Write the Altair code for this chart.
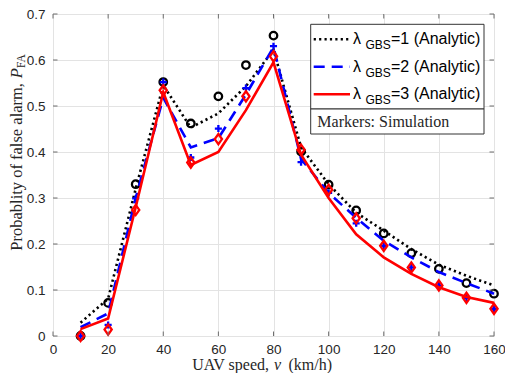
import altair as alt
import pandas as pd

speeds = [10, 20, 30, 40, 50, 60, 70, 80, 90, 100, 110, 120, 130, 140, 150, 160]

analytic_l1 = [0.029, 0.081, 0.320, 0.545, 0.453, 0.484, 0.543, 0.622, 0.410, 0.330, 0.268, 0.229, 0.189, 0.155, 0.131, 0.110]
analytic_l2 = [0.019, 0.049, 0.300, 0.518, 0.410, 0.430, 0.525, 0.628, 0.385, 0.311, 0.257, 0.207, 0.171, 0.139, 0.115, 0.092]
analytic_l3 = [0.015, 0.038, 0.280, 0.530, 0.372, 0.400, 0.491, 0.595, 0.394, 0.300, 0.221, 0.171, 0.135, 0.106, 0.085, 0.072]

sim_l1 = [0.0, 0.072, 0.330, 0.552, 0.462, 0.521, 0.589, 0.653, 0.401, 0.329, 0.273, 0.223, 0.180, 0.146, 0.115, 0.092]
sim_l2 = [0.0, 0.024, 0.299, 0.552, 0.388, 0.451, 0.539, 0.630, 0.378, 0.311, 0.245, 0.196, 0.149, 0.110, 0.083, 0.059]
sim_l3 = [0.0, 0.014, 0.274, 0.534, 0.377, 0.428, 0.521, 0.608, 0.405, 0.318, 0.256, 0.196, 0.149, 0.110, 0.083, 0.059]

x_ticks = [0, 20, 40, 60, 80, 100, 120, 140, 160]
y_ticks = [0, 0.1, 0.2, 0.3, 0.4, 0.5, 0.6, 0.7]

legend_labels = ["=1 (Analytic)", "=2 (Analytic)", "=3 (Analytic)"]
legend_colors = ["#000000", "#0000ff", "#ff0000"]

W, H = 441, 322
xs = alt.Scale(domain=[0, 160], nice=False, zero=False)
ys = alt.Scale(domain=[0, 0.7], nice=False, zero=False)
FRAME = "#6e6e6e"
SERIF = "Liberation Serif"
SANS = "Liberation Sans"

def df(vals):
    return pd.DataFrame({"v": speeds, "p": vals})

xenc = alt.X("v:Q", scale=xs, axis=alt.Axis(values=x_ticks, title=None, grid=True, ticks=False,
                                             domain=False, labelFontSize=13.5, labelFont=SANS,
                                             labelColor="#262626", labelPadding=6, labelFlush=False,
                                             gridColor="#e3e3e3"))
yenc = alt.Y("p:Q", scale=ys, axis=alt.Axis(values=y_ticks, title=None, grid=True, ticks=False,
                                             domain=False, format=".1~f", labelFontSize=13.5,
                                             labelFont=SANS, labelColor="#262626", labelPadding=8,
                                             labelFlush=False, gridColor="#e3e3e3"))

def line(vals, color, dash):
    kw = dict(color=color, strokeWidth=2.6)
    if dash:
        kw["strokeDash"] = dash
    return alt.Chart(df(vals)).mark_line(**kw).encode(x=xenc, y=yenc)

def pts(vals, color, shape, size):
    return alt.Chart(df(vals)).mark_point(shape=shape, filled=False, color=color, strokeWidth=2.3,
                                          size=size, opacity=1).encode(x=xenc, y=yenc)

layers = [
    line(analytic_l1, "#000000", [2.2, 3.2]),
    pts(sim_l1, "#000000", "circle", 56),
    line(analytic_l2, "#0000ff", [11, 7]),
    pts(sim_l2, "#0000ff", "M-1,0L1,0M0,-1L0,1", 50),
    line(analytic_l3, "#ff0000", None),
    pts(sim_l3, "#ff0000", "M0,-1.2L0.85,0L0,1.2L-0.85,0Z", 72),
]

# inward ticks
xt = pd.DataFrame({"t": x_ticks})
yt = pd.DataFrame({"t": y_ticks})
layers.append(alt.Chart(xt).mark_rule(color=FRAME, strokeWidth=1).encode(
    x=alt.X("t:Q", scale=xs), y=alt.value(H), y2=alt.value(H - 4.5)))
layers.append(alt.Chart(xt).mark_rule(color=FRAME, strokeWidth=1).encode(
    x=alt.X("t:Q", scale=xs), y=alt.value(0), y2=alt.value(4.5)))
layers.append(alt.Chart(yt).mark_rule(color=FRAME, strokeWidth=1).encode(
    y=alt.Y("t:Q", scale=ys), x=alt.value(0), x2=alt.value(4.5)))
layers.append(alt.Chart(yt).mark_rule(color=FRAME, strokeWidth=1).encode(
    y=alt.Y("t:Q", scale=ys), x=alt.value(W), x2=alt.value(W - 4.5)))

one = pd.DataFrame({"a": [0]})

# legend boxes
LX0, LX1 = 257.7, 431.0
layers.append(alt.Chart(one).mark_rect(fill="white", stroke="#333333", strokeWidth=1).encode(
    x=alt.value(LX0), x2=alt.value(LX1), y=alt.value(10.3), y2=alt.value(95.0)))
layers.append(alt.Chart(one).mark_rect(fill="white", stroke="#333333", strokeWidth=1).encode(
    x=alt.value(LX0), x2=alt.value(LX1), y=alt.value(95.0), y2=alt.value(120.0)))

rows = [25.3, 52.7, 80.3]
dashes = [[2.2, 3.2], [11, 7], None]
for ry, lab, col, dsh in zip(rows, legend_labels, legend_colors, dashes):
    kw = dict(color=col, strokeWidth=2.6)
    if dsh:
        kw["strokeDash"] = dsh
    layers.append(alt.Chart(one).mark_rule(**kw).encode(
        x=alt.value(LX0 + 3), x2=alt.value(LX0 + 39.3), y=alt.value(ry)))
    layers.append(alt.Chart(one).mark_text(text="λ", font=SANS, fontSize=16, align="left",
                                           baseline="middle", color="black").encode(
        x=alt.value(LX0 + 42.3), y=alt.value(ry)))
    layers.append(alt.Chart(one).mark_text(text="GBS", font=SANS, fontSize=12, align="left",
                                           baseline="middle", color="black").encode(
        x=alt.value(LX0 + 54.8), y=alt.value(ry + 6)))
    layers.append(alt.Chart(one).mark_text(text=lab, font=SANS, fontSize=16, align="left",
                                           baseline="middle", color="black").encode(
        x=alt.value(LX0 + 80.3), y=alt.value(ry)))

layers.append(alt.Chart(one).mark_text(text="Markers:  Simulation", font=SERIF, fontSize=16,
                                       align="left", baseline="middle", color="#262626").encode(
    x=alt.value(LX0 + 6.6), y=alt.value(107.7)))

# x title
TY = 356
layers.append(alt.Chart(one).mark_text(text="UAV speed,", font=SERIF, fontSize=16, align="right",
                                       baseline="alphabetic", color="#262626").encode(
    x=alt.value(216), y=alt.value(TY)))
layers.append(alt.Chart(one).mark_text(text="v", font=SERIF, fontSize=16, fontStyle="italic",
                                       align="center", baseline="alphabetic", color="#262626").encode(
    x=alt.value(224.5), y=alt.value(TY)))
layers.append(alt.Chart(one).mark_text(text="(km/h)", font=SERIF, fontSize=16, align="left",
                                       baseline="alphabetic", color="#262626").encode(
    x=alt.value(235.5), y=alt.value(TY)))

# y title
layers.append(alt.Chart(one).mark_text(text="Probablity of false alarm,", font=SERIF, fontSize=16.5,
                                       angle=270, align="right", baseline="alphabetic",
                                       color="#262626").encode(
    x=alt.value(-31.5), y=alt.value(69)))
layers.append(alt.Chart(one).mark_text(text="P", font=SERIF, fontSize=16.5, fontStyle="italic",
                                       angle=270, align="left", baseline="alphabetic",
                                       color="#262626").encode(
    x=alt.value(-31.5), y=alt.value(64.2)))
layers.append(alt.Chart(one).mark_text(text="FA", font=SERIF, fontSize=11.5,
                                       angle=270, align="left", baseline="alphabetic",
                                       color="#262626").encode(
    x=alt.value(-28.5), y=alt.value(54)))

chart = alt.layer(*layers).properties(
    width=W, height=H,
    autosize=alt.AutoSizeParams(type="none"),
    padding={"left": 45, "top": 6, "right": 11, "bottom": 37},
).configure_view(stroke=FRAME, strokeWidth=1).configure(background="white")

chart.save("out.html", embed_options={"renderer": "svg", "actions": False})
